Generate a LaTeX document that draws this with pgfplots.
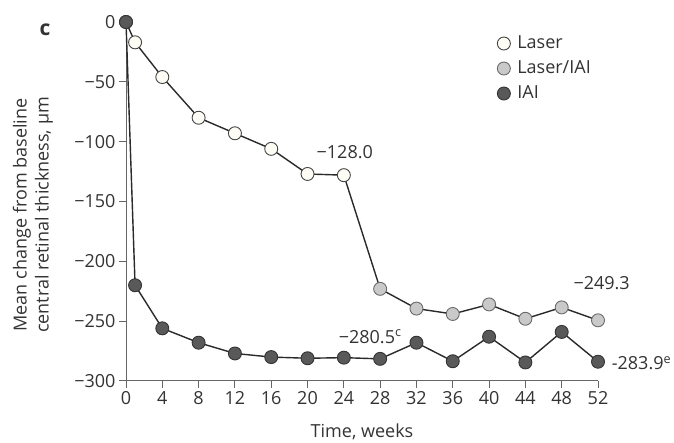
\documentclass[border=0pt]{standalone}
\usepackage{pgfplots}
\pgfplotsset{compat=1.18}
\usepackage{fontspec}
\setmainfont{Open Sans}
\definecolor{txt}{HTML}{333333}
\definecolor{axc}{HTML}{666666}
\definecolor{linec}{HTML}{2A2A2A}
\definecolor{lasfill}{HTML}{FDFDF5}
\definecolor{lasdraw}{HTML}{444444}
\definecolor{lifill}{HTML}{C9C9C9}
\definecolor{lidraw}{HTML}{6A6A6A}
\definecolor{iaifill}{HTML}{595959}
\definecolor{iaidraw}{HTML}{333333}
\begin{document}
\begin{tikzpicture}[font=\fontsize{18}{22}\selectfont, text=txt]
\begin{axis}[
  scale only axis, width=472pt, height=359pt,
  at={(0,0)}, anchor=south west,
  xmin=0, xmax=52, ymin=-300, ymax=0,
  clip=false,
  axis lines=left,
  axis line style={-, draw=axc, line width=1pt},
  tick align=outside,
  major tick length=7pt,
  tick style={draw=axc, line width=1pt},
  xtick={0,4,...,52},
  ytick={-300,-250,-200,-150,-100,-50,0},
  yticklabels={−300,−250,−200,−150,−100,−50,0},
  /pgf/number format/assume math mode=true,
  ticklabel style={text=txt, font=\fontsize{18}{22}\selectfont},
  legend style={draw=none, fill=none, at={(rel axis cs:0.780,0.981)}, anchor=north west,
    row sep=0pt, font=\fontsize{18}{22}\selectfont,
    nodes={inner sep=2pt, text height=15pt, text depth=6pt, text=txt},
    /tikz/every odd column/.append style={column sep=5pt}},
  legend cell align=left,
]
% Laser line (both phases)
\addplot[linec, line width=1.4pt, forget plot] coordinates {
(0,0) (1,-17) (4,-46) (8,-80) (12,-93) (16,-106) (20,-127) (24,-128)
(28,-223) (32,-239.5) (36,-244) (40,-236) (44,-248) (48,-238.5) (52,-249.3)};
\addplot[only marks, mark=*, mark size=6.5pt, mark options={fill=lasfill, draw=lasdraw, line width=0.9pt}] coordinates {
(0,0) (1,-17) (4,-46) (8,-80) (12,-93) (16,-106) (20,-127) (24,-128)};
\addlegendentry{Laser}
\addplot[only marks, mark=*, mark size=6.5pt, mark options={fill=lifill, draw=lidraw, line width=0.9pt}] coordinates {
(28,-223) (32,-239.5) (36,-244) (40,-236) (44,-248) (48,-238.5) (52,-249.3)};
\addlegendentry{Laser/IAI}
\addlegendimage{only marks, mark=*, mark size=6.5pt, mark options={fill=iaifill, draw=iaidraw, line width=0.9pt}}
\addlegendentry{IAI}
\addplot[linec, line width=1.4pt, mark=*, mark size=6.5pt, mark options={fill=iaifill, draw=iaidraw, line width=0.9pt}, forget plot] coordinates {
(0,0) (1,-220) (4,-256) (8,-268) (12,-277) (16,-280) (20,-281) (24,-280.5)
(28,-281.5) (32,-268) (36,-283.5) (40,-263) (44,-284.5) (48,-259) (52,-283.9)};
\node at (axis cs:24.1,-108.6) {−128.0};
\node at (axis cs:52.4,-218) {−249.3};
\node at (axis cs:26.9,-263) {−280.5\textsuperscript{c}};
\node[anchor=west, inner sep=0pt] at (axis cs:53.5,-285) {-283.9\textsuperscript{e}};
\end{axis}
\node[font=\fontsize{21}{24}\selectfont\bfseries] at (-81pt,351pt) {c};
\node[rotate=90, align=center] at (-93pt,166pt) {Mean change from baseline\\central retinal thickness, µm};
\node at (236pt,-51pt) {Time, weeks};
\pgfresetboundingbox
\path[use as bounding box] (-126pt,-62pt) rectangle (548pt,381pt);
\end{tikzpicture}
\end{document}
